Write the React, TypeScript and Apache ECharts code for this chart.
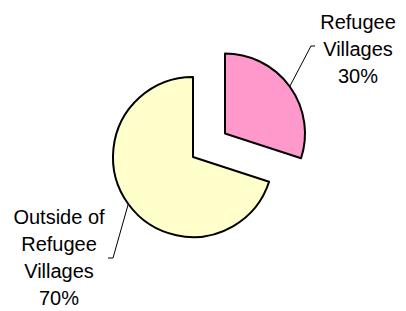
import React, { useEffect, useRef } from "react";
import * as echarts from "echarts";

const categories = ["Refugee\nVillages", "Outside of\nRefugee\nVillages"];
const values = [30, 70];
const colors = ["#FF99CC", "#FFFFCC"];

const FONT = "Liberation Sans, Arial, sans-serif";

export default function App() {
  const ref = useRef<HTMLDivElement>(null);
  useEffect(() => {
    document.body.style.margin = "0";
    const chart = echarts.init(ref.current!, null, { renderer: "svg" });
    const labelPos = [
      { x: 358, y: 49, line: [[311, 46], [315, 46]] },
      { x: 59, y: 257.5, line: [[113, 258], [108, 258]] },
    ];
    const centers = [
      [225, 133.5],
      [193, 157],
    ];
    const series = categories.map((name, i) => ({
      type: "pie",
      center: centers[i],
      radius: 80,
      startAngle: 90,
      clockwise: true,
      silent: true,
      avoidLabelOverlap: false,
      emphasis: { disabled: true },
      label: {
        show: true,
        position: "outside",
        formatter: (p: any) => `${p.name}\n${p.value}%`,
        fontFamily: FONT,
        fontSize: 20,
        lineHeight: 27,
        color: "#000",
        align: "center",
      },
      labelLine: { show: true, lineStyle: { color: "#000", width: 1 } },
      labelLayout: (p: any) => {
        const start = p.labelLinePoints ? p.labelLinePoints[0] : null;
        const lp = labelPos[i];
        return {
          x: lp.x,
          y: lp.y,
          align: "center",
          verticalAlign: "middle",
          labelLinePoints: start ? [start, ...lp.line] : undefined,
        };
      },
      data: values.map((v, j) =>
        j === i
          ? {
              name,
              value: v,
              itemStyle: { color: colors[i], borderColor: "#000", borderWidth: 2 },
            }
          : {
              name: "",
              value: v,
              itemStyle: { color: "rgba(0,0,0,0)", borderWidth: 0 },
              label: { show: false },
              labelLine: { show: false },
            }
      ),
    }));
    chart.setOption({
      animation: false,
      backgroundColor: "#ffffff",
      series,
    });
    return () => chart.dispose();
  }, []);
  return <div ref={ref} style={{ width: 406, height: 311 }} />;
}
